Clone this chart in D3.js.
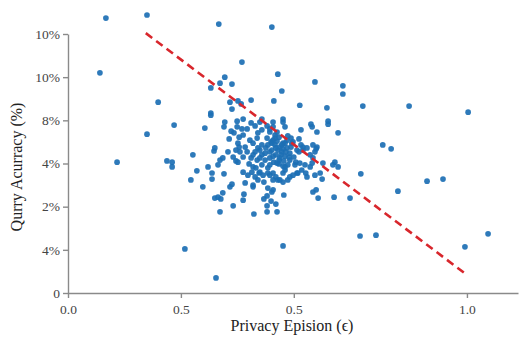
<!DOCTYPE html>
<html>
<head>
<meta charset="utf-8">
<script src="https://cdn.jsdelivr.net/npm/d3@7"></script>
<style>
  body { margin: 0; background: #fff; }
  .axis path, .axis line { stroke: #8a8a8a; stroke-width: 1.4; }
  .axis text { font-family: "Liberation Serif", "DejaVu Serif", serif; font-size: 13.5px; fill: #444; }
  .title { font-family: "Liberation Serif", "DejaVu Serif", serif; font-size: 16px; fill: #222; }
</style>
</head>
<body>
<svg id="chart" width="525" height="337"></svg>
<script>
// axis ticks (labels as printed on the figure)
const xTickValues = [0, 0.283, 0.566, 1.0];
const xTickLabels = ['0.0', '0.5', '0.5', '1.0'];
const yTickValues = [0, 1, 2, 3, 4, 5, 6];
const yTickLabels = ['0', '4%', '2%', '4%', '8%', '10%', '10%'];

// dashed trend line end points [epsilon, accuracy]
const trendLine = [[0.195, 6.02], [1.0, 0.42]];

// scatter readings [epsilon, accuracy]
const readings = [
  // sparse / outliers
  [0.095, 6.37], [0.198, 6.44], [0.378, 6.23], [0.511, 6.16], [0.080, 5.10],
  [0.436, 5.35], [0.526, 5.07], [0.393, 5.00], [0.381, 4.86], [0.358, 4.75],
  [0.411, 4.84], [0.536, 4.68], [0.226, 4.42], [0.459, 4.47], [0.516, 4.45],
  [0.406, 4.42], [0.426, 4.45], [0.434, 4.38], [0.411, 4.26], [0.581, 4.35],
  [0.358, 4.17], [0.358, 4.12], [0.198, 3.68], [0.266, 3.89], [0.343, 3.82],
  [0.619, 4.89], [0.689, 4.80], [0.689, 4.61], [0.649, 4.29], [0.739, 4.33],
  [0.855, 4.33], [1.003, 4.19], [0.123, 3.03], [0.248, 3.06], [0.261, 3.03],
  [0.261, 2.92], [0.293, 1.02], [0.539, 1.09], [0.371, 0.35], [0.734, 2.76],
  [0.900, 2.59], [0.940, 2.64], [0.827, 2.36], [0.732, 1.32], [0.772, 1.34],
  [1.053, 1.37], [0.995, 1.07], [0.789, 3.43], [0.810, 3.34], [0.707, 2.20],
  [0.667, 2.22], [0.627, 2.20], [0.614, 2.34], [0.622, 2.39], [0.677, 3.71],
  [0.624, 3.73], [0.652, 3.98], [0.652, 3.91], [0.609, 3.91], [0.612, 3.85],
  [0.584, 3.78], [0.622, 3.34],
  // lower-left of the cloud
  [0.313, 3.20], [0.366, 3.29], [0.323, 2.83], [0.308, 2.62], [0.351, 2.92],
  [0.361, 2.78], [0.361, 2.64], [0.381, 3.08], [0.376, 2.97], [0.391, 2.76],
  [0.338, 2.46], [0.414, 3.15], [0.421, 3.06], [0.426, 3.03], [0.439, 2.80],
  [0.444, 2.55], [0.411, 2.52], [0.406, 2.46], [0.388, 2.32], [0.368, 2.20],
  [0.376, 2.22], [0.383, 2.18], [0.441, 2.29], [0.439, 2.15], [0.464, 2.46],
  [0.414, 2.02], [0.381, 1.88], [0.466, 1.83], [0.491, 2.18], [0.499, 2.25],
  [0.511, 2.34], [0.514, 2.39], [0.509, 2.13], [0.499, 2.02], [0.521, 2.06],
  [0.499, 1.88], [0.524, 1.88], [0.541, 2.27], [0.501, 2.43], [0.479, 2.78],
  [0.489, 2.73], [0.501, 2.78], [0.461, 2.80], [0.451, 2.73], [0.464, 2.92],
  [0.514, 2.78], [0.526, 2.62], [0.551, 2.62], [0.556, 2.69], [0.564, 2.73],
  [0.574, 2.78], [0.368, 3.36], [0.388, 3.13], [0.449, 3.27], [0.439, 3.15],
  [0.481, 3.31], [0.494, 3.24], [0.469, 2.69], [0.481, 2.80], [0.506, 2.73],
  [0.531, 2.62], [0.464, 2.50], [0.539, 2.57], [0.521, 2.69], [0.514, 2.62],
  // right of the cloud
  [0.639, 3.01], [0.669, 3.03], [0.664, 2.97], [0.677, 2.92], [0.632, 2.78],
  [0.637, 2.64], [0.619, 2.73], [0.599, 2.69], [0.596, 2.78], [0.586, 2.85],
  [0.576, 2.78], [0.569, 2.97], [0.581, 3.01], [0.594, 2.97], [0.607, 2.92],
  [0.612, 3.01], [0.544, 2.92], [0.539, 2.78], [0.614, 3.43], [0.607, 3.20],
  [0.589, 3.31], [0.574, 3.31], [0.561, 3.47], [0.556, 3.24], [0.584, 3.43],
  [0.589, 3.38], [0.624, 3.38], [0.599, 3.36], [0.619, 3.27], [0.579, 3.27],
  [0.614, 3.13], [0.579, 3.57], [0.551, 3.64], [0.559, 3.59], [0.564, 3.50],
  [0.549, 3.54], [0.539, 3.47], [0.531, 3.38], [0.539, 4.03], [0.539, 3.96],
  [0.514, 3.96], [0.514, 3.85], [0.506, 3.73], [0.519, 3.66], [0.524, 3.73],
  [0.544, 3.85],
  // upper part of the cloud
  [0.393, 3.96], [0.391, 3.85], [0.424, 3.98], [0.439, 4.03], [0.424, 3.85],
  [0.436, 3.80], [0.459, 3.94], [0.469, 3.87], [0.481, 3.96], [0.449, 3.80],
  [0.486, 3.78], [0.499, 3.87], [0.506, 3.80], [0.409, 3.75], [0.416, 3.71],
  [0.429, 3.61], [0.439, 3.66], [0.404, 3.57], [0.426, 3.47], [0.429, 3.38],
  [0.456, 3.54], [0.464, 3.47], [0.474, 3.59], [0.476, 3.71], [0.499, 3.59],
  [0.509, 3.50], [0.514, 3.54], [0.486, 4.03],
  // dense core
  [0.519, 3.43], [0.526, 3.31], [0.536, 3.27], [0.521, 3.20], [0.531, 3.13],
  [0.544, 3.17], [0.511, 3.31], [0.506, 3.13], [0.516, 3.03], [0.529, 2.99],
  [0.541, 3.06], [0.549, 3.36], [0.536, 3.43], [0.524, 3.52], [0.501, 3.43],
  [0.494, 3.08], [0.486, 2.97], [0.474, 3.08], [0.469, 3.27], [0.459, 3.13],
  [0.454, 2.99], [0.471, 2.90], [0.501, 2.90], [0.514, 3.17], [0.551, 2.97],
  [0.556, 3.08], [0.566, 3.15], [0.571, 3.03], [0.486, 3.43], [0.476, 3.36],
  [0.444, 3.38], [0.431, 3.27], [0.421, 3.31], [0.401, 3.27], [0.486, 3.20],
  [0.529, 3.61], [0.544, 2.85], [0.491, 2.57], [0.476, 2.62], [0.539, 3.34],
  [0.506, 2.97], [0.521, 3.36], [0.534, 3.20], [0.546, 3.27], [0.529, 3.08],
  [0.511, 3.47], [0.544, 3.47], [0.554, 3.15], [0.524, 3.01], [0.539, 2.94],
  [0.506, 3.27], [0.496, 3.36], [0.481, 3.13], [0.464, 3.20], [0.559, 3.38],
  [0.519, 3.59]
];

const svg = d3.select('#chart');

const x = d3.scaleLinear()
  .domain([0, 1.128])
  .range([68, 518]);

const y = d3.scaleLinear()
  .domain([0, 6])
  .range([293, 34]);

// axes
svg.append('g')
  .attr('class', 'axis')
  .attr('transform', `translate(0,${y(0)})`)
  .call(d3.axisBottom(x)
    .tickValues(xTickValues)
    .tickFormat((d, i) => xTickLabels[i])
    .tickSize(5)
    .tickSizeOuter(0)
    .tickPadding(6));

svg.append('g')
  .attr('class', 'axis')
  .attr('transform', `translate(${x(0)},0)`)
  .call(d3.axisLeft(y)
    .tickValues(yTickValues)
    .tickFormat((d, i) => yTickLabels[i])
    .tickSize(5)
    .tickSizeOuter(0)
    .tickPadding(3));

// points
svg.append('g')
  .selectAll('circle')
  .data(readings)
  .enter()
  .append('circle')
  .attr('cx', d => x(d[0]))
  .attr('cy', d => y(d[1]))
  .attr('r', 2.85)
  .attr('fill', '#1c6fb4')
  .attr('fill-opacity', 0.92);

// dashed trend line
const line = d3.line()
  .x(d => x(d[0]))
  .y(d => y(d[1]));

svg.append('path')
  .datum(trendLine)
  .attr('fill', 'none')
  .attr('stroke', '#d8262c')
  .attr('stroke-width', 2.6)
  .attr('stroke-dasharray', '8,5')
  .attr('d', line);

// axis titles
svg.append('text')
  .attr('class', 'title')
  .attr('x', 292)
  .attr('y', 331)
  .attr('text-anchor', 'middle')
  .text('Privacy Epision (ϵ)');

svg.append('text')
  .attr('class', 'title')
  .attr('transform', 'translate(22,167) rotate(-90)')
  .attr('text-anchor', 'middle')
  .text('Qurry Acurracy (%)');
</script>
</body>
</html>
